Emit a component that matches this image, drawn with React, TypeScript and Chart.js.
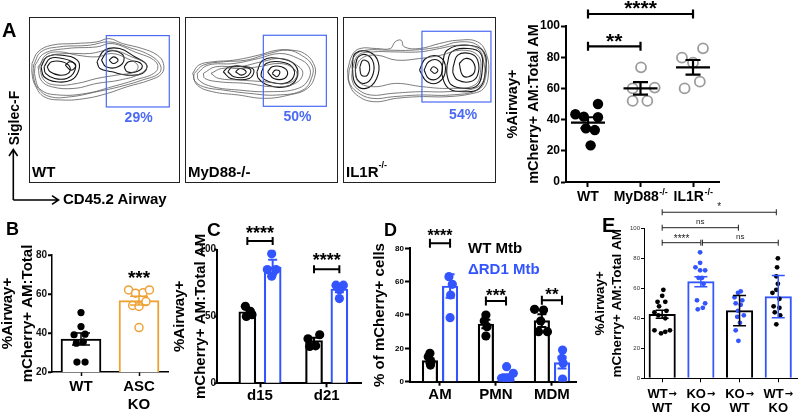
import React, { useEffect, useRef } from 'react';
import { Chart, registerables } from 'chart.js';

Chart.register(...registerables);

const FONT = '"Liberation Sans", Arial, Helvetica, sans-serif';
const BLACK = '#000000';
const BLUE = '#3355ff';
const ORANGE = '#eea236';
const GRAY = '#9c9c9c';
const GATE_BLUE = '#4a6af5';

// ---------- Panel A : flow plots ----------
const FLOW_WT_RINGS = [
  [[2,72],[6,79],[15,83],[30,84],[45,85],[53,87],[62,84],[75,81],[85,77],[89,72],[88,66],[80,62],[65,58],[52,54],[38,51],[22,50],[10,52],[4,59],[2,66],[2,72]],
  [[3,71],[8,79],[20,82],[40,83],[53,85],[65,82],[80,77],[87,71],[86,66],[75,62],[60,58],[45,55],[28,52],[14,52],[6,57],[3,64],[3,71]],
  [[4,71],[10,78],[25,81],[45,82],[55,84],[70,79],[84,73],[84,67],[70,62],[55,58],[38,54],[20,53],[8,56],[4,64],[4,71]],
  [[6,70],[12,76],[25,78],[40,78],[55,80],[68,76],[78,71],[74,66],[60,62],[45,60],[30,57],[15,58],[8,62],[6,70]],
  [[7,70],[11,77],[20,79],[32,77],[45,76],[55,78],[65,75],[72,71],[70,67],[58,65],[45,63],[32,60],[18,59],[10,62],[7,70]],
  [[8,70],[12,76],[22,77],[32,74],[33,68],[28,62],[18,61],[10,64],[8,70]],
  [[10,70],[14,75],[22,75],[30,72],[30,67],[25,63],[17,63],[11,66],[10,70]],
  [[12,70],[15,73],[22,73],[27,70],[26,66],[20,65],[14,67],[12,70]],
  [[24,71],[27,73],[31,71],[28,68],[24,71]],
  [[45,73],[50,80],[60,81],[70,76],[78,71],[75,66],[65,65],[55,67],[47,69],[45,73]],
  [[48,74],[52,79],[59,79],[63,75],[59,70],[51,70],[48,74]],
  [[53,74],[56,76],[59,74],[56,72],[53,74]],
  [[63,70],[66,73],[72,73],[75,70],[71,67],[65,67],[63,70]],
];
const FLOW_MYD_RINGS = [
  [[5,66],[9,71],[18,73],[32,74],[48,77],[60,80],[70,80],[78,78],[84,72],[85,65],[80,57],[68,53],[52,51],[35,53],[18,55],[8,59],[5,66]],
  [[6,66],[12,71],[25,73],[40,74],[55,78],[67,80],[76,77],[83,71],[83,64],[77,56],[60,53],[42,54],[25,56],[12,58],[6,62],[6,66]],
  [[8,66],[15,71],[32,72],[48,75],[62,78],[74,75],[81,70],[81,63],[74,57],[55,55],[35,56],[18,58],[9,62],[8,66]],
  [[12,66],[20,70],[35,70],[50,73],[63,75],[73,71],[77,66],[72,60],[58,58],[40,60],[22,61],[13,63],[12,66]],
  [[17,66],[24,69],[36,69],[48,70],[62,72],[71,69],[73,64],[67,60],[52,61],[36,62],[22,63],[17,66]],
  [[25,67],[29,70],[40,70],[45,68],[42,63],[30,63],[25,67]],
  [[28,67],[31,70],[38,70],[43,68],[40,64],[32,64],[28,67]],
  [[33,67],[36,69],[40,67],[37,65],[33,67]],
  [[47,67],[51,74],[62,75],[72,71],[73,63],[66,58],[54,59],[48,63],[47,67]],
  [[50,67],[53,72],[62,73],[70,70],[71,64],[65,60],[55,61],[50,64],[50,67]],
  [[54,67],[57,70],[63,70],[67,67],[65,63],[58,63],[54,67]],
  [[57,66],[59,68],[62,67],[60,64],[57,66]],
];
const FLOW_IL1R_RINGS = [
  [[3,68],[6,77],[11,81],[22,81],[31,81],[34,85],[38,86],[40,82],[50,81],[63,84],[75,86],[88,85],[94,77],[95,65],[92,57],[85,54],[68,52],[50,52],[35,51],[20,49],[9,53],[4,60],[3,68]],
  [[4,68],[8,77],[15,80],[30,80],[45,80],[63,82],[76,85],[88,83],[93,75],[93,63],[88,56],[70,53],[50,53],[33,52],[19,51],[9,55],[4,61],[4,68]],
  [[6,68],[10,77],[20,79],[32,79],[50,79],[63,81],[76,83],[88,81],[92,73],[92,62],[86,57],[68,55],[50,55],[32,54],[18,53],[9,57],[6,62],[6,68]],
  [[8,68],[12,75],[22,77],[35,74],[50,75],[64,77],[77,80],[88,77],[90,68],[86,59],[70,57],[52,58],[35,60],[20,58],[10,61],[8,68]],
  [[6,70],[8,78],[17,79],[23,73],[22,63],[15,57],[8,60],[6,70]],
  [[8,70],[10,76],[16,77],[20,72],[19,64],[14,60],[9,63],[8,70]],
  [[11,70],[13,74],[17,72],[16,65],[12,65],[11,70]],
  [[50,68],[54,75],[63,76],[67,69],[63,61],[55,61],[50,68]],
  [[53,68],[56,73],[62,74],[65,69],[62,63],[56,63],[53,68]],
  [[57,68],[59,70],[62,68],[60,66],[57,68]],
  [[65,71],[68,80],[82,83],[92,79],[93,67],[89,57],[79,55],[69,57],[65,64],[65,71]],
  [[68,71],[71,79],[82,81],[90,78],[91,68],[88,59],[80,57],[71,59],[68,65],[68,71]],
  [[72,70],[75,77],[83,78],[88,74],[88,65],[83,61],[75,62],[72,66],[72,70]],
  [[76,72],[80,75],[85,73],[86,67],[82,64],[78,65],[76,72]],
];
const FLOW_PCTS = ['29%', '50%', '54%'];
const GATE_WT = [51.2, 92.9, 45.8, 88.8];
const GATE_MYD = [51.2, 92.4, 46.2, 89.0];
const GATE_IL1R = [51.6, 96.7, 48.8, 91.4];
const PCT_POS_WT = [72.6, 39.2];
const PCT_POS_MYD = [73.5, 39.8];
const PCT_POS_IL1R = [78.5, 40.6];

// ---------- Panel A : scatter ----------
const A_CATS = ['WT', 'MyD88', 'IL1R'];
const A_SUPS = ['', '-/-', '-/-'];
const A_WT = [43.4, 41.9, 50.0, 41.5, 34.4, 33.3, 23.5];
const A_WT_JIT = [-0.24, -0.08, 0.19, 0.19, -0.04, 0.13, 0.05];
const A_MYD = [73.5, 60.0, 60.5, 52.0, 52.0];
const A_MYD_JIT = [0.01, -0.15, 0.27, -0.15, 0.13];
const A_IL1R = [79.7, 85.7, 76.5, 60.0, 64.3];
const A_IL1R_JIT = [-0.21, 0.19, 0.0, -0.16, 0.13];
const A_MEANS = [38.0, 60.0, 73.5];
const A_SEM = [3.5, 4.0, 4.7];

// ---------- Panel B ----------
const B_CATS = ['WT', ['ASC', 'KO']];
const B_MEANS = [36.9, 56.6];
const B_SEM = [3.1, 2.3];
const B_WT = [50.5, 43.3, 39.1, 39.4, 34.8, 35.5, 25.1, 25.1];
const B_WT_JIT = [0.0, 0.0, -0.12, 0.07, -0.08, 0.04, -0.07, 0.07];
const B_ASC = [62.1, 60.4, 60.7, 62.1, 54.1, 53.6, 56.1, 42.8];
const B_ASC_JIT = [-0.18, -0.06, 0.07, 0.18, -0.11, 0.0, 0.12, 0.0];

// ---------- Panel C ----------
const C_CATS = ['d15', 'd21'];
const C_WT_MEANS = [53.5, 32.0];
const C_WT_ERR = [2.0, 2.0];
const C_RD1_MEANS = [86.8, 70.5];
const C_RD1_ERR = [5.5, 2.5];
const C_WT_D15 = [57.5, 53.8, 50.0, 51.3];
const C_WT_D15_JIT = [-0.03, 0.045, -0.015, 0.07];
const C_WT_D21 = [33.3, 36.3, 27.5, 28.0];
const C_WT_D21_JIT = [-0.09, 0.085, -0.065, 0.025];
const C_RD1_D15 = [96.8, 85.0, 85.0, 80.0];
const C_RD1_D15_JIT = [-0.015, -0.08, 0.05, -0.015];
const C_RD1_D21 = [73.3, 73.3, 70.0, 63.3];
const C_RD1_D21_JIT = [-0.05, 0.06, 0.0, 0.0];

// ---------- Panel D ----------
const D_CATS = ['AM', 'PMN', 'MDM'];
const D_WT_MEANS = [12.6, 34.6, 36.6];
const D_WT_SEM = [1.5, 2.5, 3.8];
const D_RD1_MEANS = [57.4, 3.0, 11.4];
const D_RD1_SEM = [7.0, 1.5, 3.5];
const D_WT_AM = [17.0, 15.0, 12.0, 10.0];
const D_WT_AM_JIT = [0.0, -0.03, 0.02, 0.01];
const D_RD1_AM = [63.0, 58.4, 52.0, 38.4];
const D_RD1_AM_JIT = [-0.02, 0.04, 0.01, 0.0];
const D_WT_PMN = [40.0, 36.4, 33.0, 27.4];
const D_WT_PMN_JIT = [0.0, -0.03, 0.02, 0.0];
const D_RD1_PMN = [9.0, 5.0, 2.0, 1.6, 1.0];
const D_RD1_PMN_JIT = [0.01, 0.13, -0.08, 0.01, 0.07];
const D_WT_MDM = [43.4, 43.0, 36.4, 30.0, 30.0];
const D_WT_MDM_JIT = [-0.13, 0.03, -0.02, -0.06, 0.1];
const D_RD1_MDM = [19.0, 14.0, 11.0, 1.6];
const D_RD1_MDM_JIT = [0.01, 0.0, 0.02, 0.01];

// ---------- Panel E ----------
const E_CATS_FROM = ['WT', 'KO', 'KO', 'WT'];
const E_CATS_TO = ['WT', 'KO', 'WT', 'KO'];
const E_MEANS = [42.7, 64.4, 45.1, 54.4];
const E_ERR = [2.6, 3.3, 10.1, 14.1];
const E_WTWT = [59, 55, 51, 51, 48, 45, 44, 42, 40, 32, 30, 31, 32];
const E_WTWT_JIT = [0.03, 0.0, -0.12, 0.08, -0.08, 0.11, -0.2, -0.1, 0.08, -0.2, -0.03, 0.08, 0.2];
const E_KOKO = [84, 77, 74, 72, 72, 67, 67, 63, 52, 50, 46, 47];
const E_KOKO_JIT = [-0.02, -0.02, -0.14, 0.11, -0.02, 0.03, -0.06, 0.07, -0.1, 0.11, -0.08, 0.05];
const E_KOWT = [58, 57, 54, 52, 50, 49, 45, 42, 41, 37, 32, 25];
const E_KOWT_JIT = [0.03, -0.04, -0.13, 0.07, -0.1, 0.03, -0.04, 0.11, -0.06, 0.01, -0.1, -0.03];
const E_WTKO = [80, 74, 68, 63, 59, 57, 53, 48, 47, 44, 42, 36];
const E_WTKO_JIT = [-0.01, -0.03, -0.05, -0.01, -0.05, -0.15, 0.03, -0.12, 0.03, -0.09, 0.05, -0.05];

// ---------- helpers ----------
const pts = (cat: number, vals: number[], jit: number[]) => vals.map((v, i) => ({ x: cat + jit[i], y: v }));

const errorBarPlugin = (items: any[], cap: number, lw: number, meanHalf = 0) => ({
  id: 'errbars',
  afterDatasetsDraw(chart: any) {
    const { ctx } = chart;
    const xs = chart.scales.x, ys = chart.scales.y;
    ctx.save();
    ctx.lineWidth = lw;
    items.forEach((it) => {
      const px = xs.getPixelForValue(it.x);
      const top = ys.getPixelForValue(it.y + it.e);
      const bot = ys.getPixelForValue(it.y - it.e);
      const mid = ys.getPixelForValue(it.y);
      ctx.strokeStyle = it.color;
      ctx.beginPath();
      ctx.moveTo(px, top); ctx.lineTo(px, bot);
      ctx.moveTo(px - cap, top); ctx.lineTo(px + cap, top);
      ctx.moveTo(px - cap, bot); ctx.lineTo(px + cap, bot);
      if (meanHalf) { ctx.moveTo(px - meanHalf, mid); ctx.lineTo(px + meanHalf, mid); }
      ctx.stroke();
    });
    ctx.restore();
  },
});

const sigPlugin = (items: any[], lw: number, cap: number, color = BLACK) => ({
  id: 'sig',
  afterDraw(chart: any) {
    const { ctx } = chart;
    const xs = chart.scales.x, ys = chart.scales.y;
    ctx.save();
    ctx.strokeStyle = color; ctx.fillStyle = color; ctx.lineWidth = lw;
    items.forEach((it) => {
      const x1 = xs.getPixelForValue(it.x1), x2 = xs.getPixelForValue(it.x2), y = ys.getPixelForValue(it.y);
      if (it.line !== false) {
        ctx.beginPath();
        ctx.moveTo(x1, y); ctx.lineTo(x2, y);
        ctx.moveTo(x1, y - cap); ctx.lineTo(x1, y + cap);
        ctx.moveTo(x2, y - cap); ctx.lineTo(x2, y + cap);
        ctx.stroke();
      }
      ctx.font = `${it.weight || 'bold'} ${it.size}px ${FONT}`;
      ctx.textAlign = 'center';
      ctx.textBaseline = 'alphabetic';
      ctx.fillText(it.text, (x1 + x2) / 2, y + it.dy);
    });
    ctx.restore();
  },
});

// draws y tick marks + labels at the y scale's step values
const yLabelPlugin = (size: number, gap: number, tickLen: number, tickW: number) => ({
  id: 'yLabels',
  afterDraw(chart: any) {
    const { ctx, chartArea } = chart;
    const ys = chart.scales.y;
    ctx.save();
    ctx.fillStyle = '#111111';
    ctx.strokeStyle = BLACK;
    ctx.lineWidth = tickW;
    ctx.font = `bold ${size}px ${FONT}`;
    ctx.textAlign = 'right';
    ctx.textBaseline = 'middle';
    const vals: number[] = [];
    for (let v = ys.min; v <= ys.max + 1e-9; v += ys.options.ticks.stepSize) vals.push(v);
    vals.forEach((v) => {
      const py = ys.getPixelForValue(v);
      ctx.beginPath();
      ctx.moveTo(chartArea.left - tickLen, py);
      ctx.lineTo(chartArea.left, py);
      ctx.stroke();
      ctx.fillText(String(Math.round(v)), chartArea.left - gap, py);
    });
    ctx.restore();
  },
});

function yAxis(o: any) {
  return {
    type: 'linear', position: 'left', min: o.min, max: o.max,
    afterFit: (s: any) => { s.width = o.width; },
    afterBuildTicks: (s: any) => {
      const t: any[] = [];
      for (let v = o.min; v <= o.max + 1e-9; v += o.step) t.push({ value: v });
      s.ticks = t;
    },
    border: { display: true, color: BLACK, width: o.borderW },
    grid: { display: true, drawOnChartArea: false, drawTicks: true, tickLength: o.tickLen, tickWidth: o.tickW || o.borderW, tickColor: BLACK },
    ticks: {
      display: !o.customLabels,
      autoSkip: false, color: o.tickColor || BLACK, padding: o.pad, stepSize: o.step,
      font: { family: FONT, size: o.fontSize, weight: o.tickWeight || 'bold' },
      callback: (v: any) => String(v),
    },
    title: o.title
      ? { display: true, text: o.title, color: BLACK, padding: { top: o.titlePad, bottom: 0 }, font: { family: FONT, size: o.titleSize, weight: 'bold', lineHeight: o.titleLH } }
      : { display: false },
  };
}

function xAxis(o: any) {
  return {
    type: 'linear', position: 'bottom', min: o.min, max: o.max, offset: false,
    afterFit: (s: any) => { s.height = o.height; },
    afterBuildTicks: (s: any) => { s.ticks = o.labels.map((_: any, i: number) => ({ value: i })); },
    border: { display: true, color: BLACK, width: o.borderW },
    grid: { display: true, offset: false, drawOnChartArea: false, drawTicks: true, tickLength: o.tickLen, tickWidth: o.tickW || o.borderW, tickColor: BLACK },
    ticks: {
      autoSkip: false, maxRotation: 0, minRotation: 0, padding: o.pad, color: BLACK,
      font: { family: FONT, size: o.fontSize, weight: 'bold', lineHeight: o.lineHeight },
      callback: (_v: any, i: number) => (o.hideLabels ? '' : o.labels[i]),
    },
  };
}

const baseOptions = (padTop: number, padRight: number, scales: any) => ({
  responsive: false,
  animation: false,
  events: [],
  layout: { padding: { top: padTop, right: padRight, left: 0, bottom: 0 } },
  plugins: { legend: { display: false }, tooltip: { enabled: false }, title: { display: false } },
  scales,
});

const barDs = (data: any[], colors: string[], thickness: number, bw: number) => ({
  type: 'bar', data, backgroundColor: '#ffffff', borderColor: colors, borderWidth: bw,
  barThickness: thickness, grouped: false, order: 2, borderSkipped: 'start',
});
const dotDs = (data: any[], fill: string, stroke: string, r: number, bw = 0) => ({
  type: 'scatter', data, backgroundColor: fill, borderColor: stroke, borderWidth: bw,
  pointRadius: r, pointHoverRadius: r, order: 1,
});

// ---------- chart configs ----------
function flowConfig(rings: number[][][], lightCount: number, gate: number[], pct: string, pctPos: number[]) {
  return {
    type: 'scatter',
    data: {
      datasets: rings.map((ring, i) => ({
        data: ring.map((p) => ({ x: p[0], y: p[1] })),
        showLine: true, tension: 0.42, pointRadius: 0, fill: false,
        borderColor: i < lightCount ? '#5a5a5a' : '#151515',
        borderWidth: i < lightCount ? 0.8 : 1.1,
      })),
    },
    options: {
      responsive: false, animation: false, events: [],
      layout: { padding: 0 },
      plugins: { legend: { display: false }, tooltip: { enabled: false } },
      scales: {
        x: { type: 'linear', min: 0, max: 100, display: false },
        y: { type: 'linear', min: 0, max: 100, display: false },
      },
    },
    plugins: [{
      id: 'frameGate',
      afterDraw(chart: any) {
        const { ctx, chartArea: a } = chart;
        const xs = chart.scales.x, ys = chart.scales.y;
        ctx.save();
        ctx.strokeStyle = '#222'; ctx.lineWidth = 1;
        ctx.strokeRect(a.left + 0.5, a.top + 0.5, a.right - a.left - 1, a.bottom - a.top - 1);
        ctx.strokeStyle = GATE_BLUE; ctx.lineWidth = 1.2;
        const gx0 = xs.getPixelForValue(gate[0]), gx1 = xs.getPixelForValue(gate[1]);
        const gy0 = ys.getPixelForValue(gate[2]), gy1 = ys.getPixelForValue(gate[3]);
        ctx.strokeRect(gx0, gy1, gx1 - gx0, gy0 - gy1);
        ctx.fillStyle = GATE_BLUE;
        ctx.font = `bold 14px ${FONT}`;
        ctx.textAlign = 'center'; ctx.textBaseline = 'middle';
        ctx.fillText(pct, xs.getPixelForValue(pctPos[0]), ys.getPixelForValue(pctPos[1]));
        ctx.restore();
      },
    }],
  };
}

function scatterAConfig() {
  const errItems = A_MEANS.map((m, i) => ({ x: i, y: m, e: A_SEM[i], color: BLACK }));
  const labelPlugin = {
    id: 'aLabels',
    afterDraw(chart: any) {
      const { ctx } = chart;
      const xs = chart.scales.x;
      ctx.save();
      ctx.fillStyle = BLACK;
      ctx.textBaseline = 'alphabetic';
      A_CATS.forEach((c, i) => {
        ctx.font = `bold 14px ${FONT}`;
        const w1 = ctx.measureText(c).width;
        ctx.font = `bold 9px ${FONT}`;
        const w2 = A_SUPS[i] ? ctx.measureText(A_SUPS[i]).width : 0;
        const cx = xs.getPixelForValue(i);
        const x0 = cx - (w1 + w2) / 2;
        ctx.textAlign = 'left';
        ctx.font = `bold 14px ${FONT}`;
        ctx.fillText(c, x0, 201);
        if (A_SUPS[i]) {
          ctx.font = `bold 9px ${FONT}`;
          ctx.fillText(A_SUPS[i], x0 + w1 + 0.5, 195);
        }
      });
      ctx.restore();
    },
  };
  return {
    type: 'scatter',
    data: {
      datasets: [
        dotDs(pts(0, A_WT, A_WT_JIT), BLACK, BLACK, 5.2),
        dotDs(pts(1, A_MYD, A_MYD_JIT), 'rgba(255,255,255,0)', GRAY, 5, 1.8),
        dotDs(pts(2, A_IL1R, A_IL1R_JIT), 'rgba(255,255,255,0)', GRAY, 5, 1.8),
      ],
    },
    options: baseOptions(26, 11, {
      x: xAxis({ min: -0.419, max: 2.495, labels: A_CATS, height: 30, fontSize: 14, lineHeight: 1.2, tickLen: 5, pad: 2, borderW: 2, hideLabels: true }),
      y: yAxis({ min: 0, max: 100, step: 20, width: 66, fontSize: 12, tickLen: 5, pad: 1, borderW: 2,
        title: ['%Airway+', 'mCherry+ AM:Total AM'], titleSize: 14.5, titleLH: 1.45, titlePad: 2.5 }),
    }),
    plugins: [
      errorBarPlugin(errItems, 7.5, 2.2, 17),
      sigPlugin([
        { x1: 0, x2: 1, y: 87, text: '**', size: 21, dy: 2 },
        { x1: 0, x2: 2, y: 107.7, text: '****', size: 21, dy: 1.5 },
      ], 2.2, 4.5),
      labelPlugin,
    ],
  };
}

function panelBConfig() {
  const colors = [BLACK, ORANGE];
  return {
    type: 'bar',
    data: {
      datasets: [
        dotDs(pts(0, B_WT, B_WT_JIT), BLACK, BLACK, 3.6),
        dotDs(pts(1, B_ASC, B_ASC_JIT), '#ffffff', ORANGE, 4, 1.5),
        barDs(B_MEANS.map((v, i) => ({ x: i, y: v })), colors, 40, 2),
      ],
    },
    options: baseOptions(40, 9, {
      x: xAxis({ min: -0.5, max: 1.5, labels: B_CATS, height: 40, fontSize: 15, lineHeight: 1.17, tickLen: 4, pad: 2.5, borderW: 1.5 }),
      y: yAxis({ min: 20, max: 80, step: 20, width: 55, fontSize: 9, tickLen: 4, pad: 1, borderW: 1.5, customLabels: true,
        title: ['%Airway+', 'mCherry+ AM:Total'], titleSize: 15, titleLH: 1.33, titlePad: 0.5 }),
    }),
    plugins: [
      errorBarPlugin(B_MEANS.map((m, i) => ({ x: i, y: m, e: B_SEM[i], color: colors[i] })), 9, 1.5),
      sigPlugin([{ x1: 1, x2: 1, y: 70.9, text: '***', size: 19, dy: 10.8, line: false }], 2, 4),
      yLabelPlugin(10, 5, 4, 1.3),
    ],
  };
}

const C_OFF = 0.19;
function panelCConfig() {
  const err = [
    ...C_WT_MEANS.map((m, i) => ({ x: i - C_OFF, y: m, e: C_WT_ERR[i], color: BLACK })),
    ...C_RD1_MEANS.map((m, i) => ({ x: i + C_OFF, y: m, e: C_RD1_ERR[i], color: BLUE })),
  ];
  return {
    type: 'bar',
    data: {
      datasets: [
        dotDs([...pts(-C_OFF, C_WT_D15, C_WT_D15_JIT), ...pts(1 - C_OFF, C_WT_D21, C_WT_D21_JIT)], BLACK, BLACK, 4.6),
        dotDs([...pts(C_OFF, C_RD1_D15, C_RD1_D15_JIT), ...pts(1 + C_OFF, C_RD1_D21, C_RD1_D21_JIT)], BLUE, BLUE, 4.6),
        barDs(C_WT_MEANS.map((v, i) => ({ x: i - C_OFF, y: v })), [BLACK, BLACK], 17, 2.2),
        barDs(C_RD1_MEANS.map((v, i) => ({ x: i + C_OFF, y: v })), [BLUE, BLUE], 17, 2.2),
      ],
    },
    options: baseOptions(34.5, 6.3, {
      x: xAxis({ min: -0.645, max: 1.525, labels: C_CATS, height: 28.7, fontSize: 15, lineHeight: 1.0, tickLen: 4, pad: 1.5, borderW: 2 }),
      y: yAxis({ min: 0, max: 100, step: 50, width: 49, fontSize: 9, tickLen: 3, pad: 1, borderW: 2, customLabels: true,
        title: ['%Airway+', 'mCherry+ AM:Total AM'], titleSize: 15, titleLH: 1.4, titlePad: 1.5 }),
    }),
    plugins: [
      errorBarPlugin(err, 4.5, 2),
      sigPlugin([
        { x1: -C_OFF, x2: C_OFF, y: 106.4, text: '****', size: 18, dy: -1.7 },
        { x1: 1 - C_OFF, x2: 1 + C_OFF, y: 85.2, text: '****', size: 18, dy: -3 },
      ], 2, 4),
      yLabelPlugin(10, 1, 3, 1.5),
    ],
  };
}

const D_OFF = 0.18;
function panelDConfig() {
  const err = [
    ...D_WT_MEANS.map((m, i) => ({ x: i - D_OFF, y: m, e: D_WT_SEM[i], color: BLACK })),
    ...D_RD1_MEANS.map((m, i) => ({ x: i + D_OFF, y: m, e: D_RD1_SEM[i], color: BLUE })),
  ];
  return {
    type: 'bar',
    data: {
      datasets: [
        dotDs([
          ...pts(-D_OFF, D_WT_AM, D_WT_AM_JIT),
          ...pts(1 - D_OFF, D_WT_PMN, D_WT_PMN_JIT),
          ...pts(2 - D_OFF, D_WT_MDM, D_WT_MDM_JIT),
        ], BLACK, BLACK, 4.6),
        dotDs([
          ...pts(D_OFF, D_RD1_AM, D_RD1_AM_JIT),
          ...pts(1 + D_OFF, D_RD1_PMN, D_RD1_PMN_JIT),
          ...pts(2 + D_OFF, D_RD1_MDM, D_RD1_MDM_JIT),
        ], BLUE, BLUE, 4.6),
        barDs(D_WT_MEANS.map((v, i) => ({ x: i - D_OFF, y: v })), [BLACK, BLACK, BLACK], 15.5, 2.2),
        barDs(D_RD1_MEANS.map((v, i) => ({ x: i + D_OFF, y: v })), [BLUE, BLUE, BLUE], 15.5, 2.2),
      ],
    },
    options: baseOptions(33.3, 7, {
      x: xAxis({ min: -0.536, max: 2.43, labels: D_CATS, height: 30.3, fontSize: 15, lineHeight: 1.0, tickLen: 4, pad: 2, borderW: 2 }),
      y: yAxis({ min: 0, max: 80, step: 20, width: 42, fontSize: 8, tickLen: 5, pad: 1, borderW: 2,
        title: '% of mCherry+ cells', titleSize: 15, titleLH: 1.2, titlePad: 3 }),
    }),
    plugins: [
      errorBarPlugin(err, 4.5, 2),
      sigPlugin([
        { x1: -D_OFF, x2: D_OFF, y: 83, text: '****', size: 16, dy: -2.7 },
        { x1: 1 - D_OFF, x2: 1 + D_OFF, y: 48.4, text: '***', size: 17, dy: -0.3 },
        { x1: 2 - D_OFF, x2: 2 + D_OFF, y: 48.8, text: '**', size: 17, dy: -0.3 },
      ], 2, 4.5),
    ],
  };
}

function panelEConfig() {
  const barColors = [BLACK, BLUE, BLACK, BLUE];
  const labelPlugin = {
    id: 'eLabels',
    afterDraw(chart: any) {
      const { ctx, chartArea } = chart;
      const xs = chart.scales.x;
      const base = chartArea.bottom;
      const mainFont = `bold 13px ${FONT}`;
      const arrowFont = `bold 10px "DejaVu Sans", ${FONT}`;
      ctx.save();
      ctx.fillStyle = BLACK;
      ctx.textBaseline = 'alphabetic';
      E_CATS_FROM.forEach((c, i) => {
        const cx = xs.getPixelForValue(i);
        ctx.font = mainFont;
        const w1 = ctx.measureText(c).width;
        ctx.font = arrowFont;
        const w2 = ctx.measureText('→').width;
        const x0 = cx - (w1 + w2 + 1) / 2;
        ctx.textAlign = 'left';
        ctx.font = mainFont;
        ctx.fillText(c, x0, base + 19.7);
        ctx.font = arrowFont;
        ctx.fillText('→', x0 + w1 + 1, base + 18.6);
        ctx.font = mainFont;
        ctx.textAlign = 'center';
        ctx.fillText(E_CATS_TO[i], cx, base + 33.7);
      });
      ctx.restore();
    },
  };
  return {
    type: 'bar',
    data: {
      datasets: [
        dotDs(pts(0, E_WTWT, E_WTWT_JIT), BLACK, BLACK, 2.4),
        dotDs(pts(1, E_KOKO, E_KOKO_JIT), BLUE, BLUE, 2.4),
        dotDs(pts(2, E_KOWT, E_KOWT_JIT), BLUE, BLUE, 2.4),
        dotDs(pts(3, E_WTKO, E_WTKO_JIT), BLACK, BLACK, 2.4),
        barDs(E_MEANS.map((v, i) => ({ x: i, y: v })), barColors, 26.5, 2),
      ],
    },
    options: baseOptions(33.3, 0, {
      x: xAxis({ min: -0.47, max: 3.5, labels: E_CATS_FROM, height: 33.7, fontSize: 14, lineHeight: 1.0, tickLen: 4, pad: 3.7, borderW: 1, hideLabels: true }),
      y: yAxis({ min: 0, max: 100, step: 20, width: 56, fontSize: 6, tickLen: 3, pad: 1, borderW: 1, tickWeight: 'normal', tickColor: '#333',
        title: ['%Airway+', 'mCherry+ AM:Total AM'], titleSize: 13.5, titleLH: 1.25, titlePad: 3.5 }),
    }),
    plugins: [
      errorBarPlugin(E_MEANS.map((m, i) => ({ x: i, y: m, e: E_ERR[i], color: barColors[i] })), 6.5, 1.5),
      sigPlugin([
        { x1: 0, x2: 2.95, y: 110.7, text: '*', size: 10, dy: -2.6, weight: 'normal' },
        { x1: 0, x2: 1.97, y: 100.4, text: 'ns', size: 8, dy: -3.9, weight: 'normal' },
        { x1: 0, x2: 1, y: 90.4, text: '****', size: 10, dy: -1, weight: 'normal' },
        { x1: 1.04, x2: 3, y: 90.4, text: 'ns', size: 8, dy: -3.6, weight: 'normal' },
      ], 1, 3, '#222'),
      labelPlugin,
    ],
  };
}

// ---------- components ----------
function ChartBox(props: { left: number; top: number; width: number; height: number; make: () => any }) {
  const ref = useRef<HTMLCanvasElement | null>(null);
  useEffect(() => {
    const chart = new Chart(ref.current as HTMLCanvasElement, props.make());
    return () => chart.destroy();
  }, []);
  return (
    <canvas
      ref={ref}
      width={props.width}
      height={props.height}
      style={{ position: 'absolute', left: props.left, top: props.top, width: props.width, height: props.height }}
    />
  );
}

function Txt(props: { left: number; top: number; size: number; color?: string; children: any; style?: any }) {
  return (
    <div
      style={{
        position: 'absolute', left: props.left, top: props.top, fontSize: props.size, lineHeight: 1,
        fontFamily: FONT, fontWeight: 'bold', color: props.color || BLACK, whiteSpace: 'nowrap', ...(props.style || {}),
      }}
    >
      {props.children}
    </div>
  );
}

export default function App() {
  return (
    <div style={{ position: 'absolute', left: 0, top: 0, width: 800, height: 412, background: '#fff', overflow: 'hidden' }}>
      <ChartBox left={29} top={17} width={151} height={166} make={() => flowConfig(FLOW_WT_RINGS, 5, GATE_WT, FLOW_PCTS[0], PCT_POS_WT)} />
      <ChartBox left={185} top={17} width={153} height={166} make={() => flowConfig(FLOW_MYD_RINGS, 5, GATE_MYD, FLOW_PCTS[1], PCT_POS_MYD)} />
      <ChartBox left={343} top={17} width={153} height={166} make={() => flowConfig(FLOW_IL1R_RINGS, 4, GATE_IL1R, FLOW_PCTS[2], PCT_POS_IL1R)} />
      <ChartBox left={500} top={0} width={230} height={212} make={scatterAConfig} />
      <ChartBox left={-3} top={215} width={180} height={197} make={panelBConfig} />
      <ChartBox left={168} top={215} width={200} height={197} make={panelCConfig} />
      <ChartBox left={368} top={215} width={215} height={197} make={panelDConfig} />
      <ChartBox left={588} top={195} width={212} height={217} make={panelEConfig} />

      <svg width={70} height={70} style={{ position: 'absolute', left: 0, top: 140 }}>
        <path d="M13.3 60 L13.3 10 M9 16 L13.3 9.5 L17.6 16 M13.3 60 L58 60 M52 55.7 L58.5 60 L52 64.3" stroke="#000" strokeWidth={1.6} fill="none" />
      </svg>

      <Txt left={2} top={20.4} size={20}>A</Txt>
      <Txt left={6} top={219.7} size={18}>B</Txt>
      <Txt left={207} top={219.5} size={19}>C</Txt>
      <Txt left={384} top={220.7} size={18}>D</Txt>
      <Txt left={602} top={215.4} size={20}>E</Txt>

      <Txt left={32} top={164} size={15}>WT</Txt>
      <Txt left={188} top={164} size={15}>MyD88-/-</Txt>
      <Txt left={346} top={164} size={15}>IL1R<sup style={{ fontSize: 9, verticalAlign: 'top', position: 'relative', top: -3 }}>-/-</sup></Txt>
      <Txt left={13.5} top={118} size={14} style={{ transform: 'translate(-50%, -50%) rotate(-90deg)' }}>Siglec-F</Txt>
      <Txt left={63} top={191} size={15}>CD45.2 Airway</Txt>

      <Txt left={468} top={240} size={15}>WT Mtb</Txt>
      <Txt left={468} top={261} size={15} color={BLUE}>ΔRD1 Mtb</Txt>
    </div>
  );
}
